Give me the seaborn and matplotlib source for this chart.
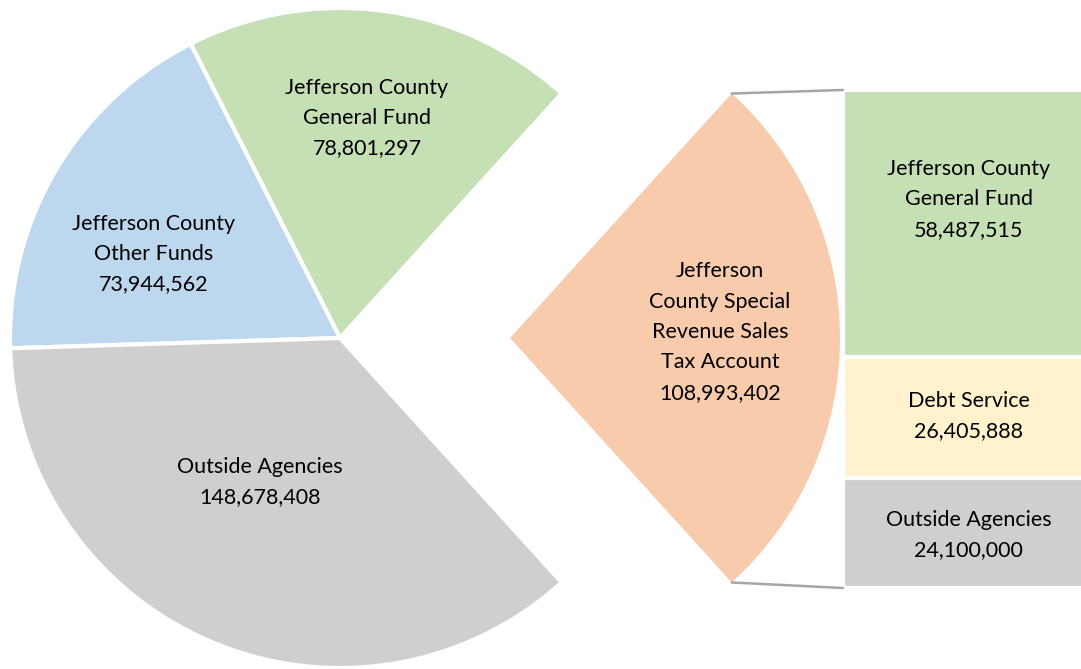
import numpy as np
import matplotlib
matplotlib.use("Agg")
import matplotlib.pyplot as plt
import seaborn as sns
from matplotlib.patches import ConnectionPatch

# ---- data ----
pie_labels = ["Jefferson\nCounty Special\nRevenue Sales\nTax Account",
              "Jefferson County\nGeneral Fund",
              "Jefferson County\nOther Funds",
              "Outside Agencies"]
pie_values = [108993402, 78801297, 73944562, 148678408]
pie_colors = ["#F8CBAD", "#C5E0B4", "#BDD7EE", "#D0CECE"]

bar_labels = ["Jefferson County\nGeneral Fund", "Debt Service", "Outside Agencies"]
bar_values = [58487515, 26405888, 24100000]
bar_colors = ["#C5E0B4", "#FFF2CC", "#D0CECE"]

sns.set_theme(style="white")
plt.rcParams['font.family'] = ['Lato', 'DejaVu Sans']
FS = 15.5
LS = 1.65

W, H = 1081, 669
fig = plt.figure(figsize=(W / 100, H / 100), dpi=100)

# pie axes in pixel-like data coordinates
ax = fig.add_axes([0, 0, 1, 1])
cx, cy, R = 340, H - 338, 330
total = sum(pie_values)
frac0 = pie_values[0] / total
start = -frac0 * 180.0
wedges, _ = ax.pie(pie_values, colors=pie_colors, startangle=start,
                   counterclock=True, radius=R, center=(cx, cy),
                   explode=[170, 0, 0, 0], frame=True,
                   wedgeprops=dict(edgecolor="white", linewidth=3))
wedges[0].set_linewidth(0)
ax.set_xlim(0, W)
ax.set_ylim(0, H)
ax.set_aspect("equal")
ax.axis("off")

# pie label positions (pixel coords from top)
pie_text_pos = [(720, 332), (367, 118), (154, 254), (260, 482)]
for (px, py), lab, v in zip(pie_text_pos, pie_labels, pie_values):
    ax.text(px, H - py, lab + "\n" + f"{v:,}", ha="center", va="center",
            fontsize=FS, color="#000000", linespacing=LS)

# bar axes
bx0, bx1 = 843, 1085
by_top, by_bot = 90, 588
bax = fig.add_axes([bx0 / W, (H - by_bot) / H, (bx1 - bx0) / W, (by_bot - by_top) / H])
btotal = sum(bar_values)
bottoms = np.cumsum([0] + bar_values[::-1])[:-1][::-1]
label_shift = [0.049, 0.003, -0.004]
for lab, v, b, c, sh in zip(bar_labels, bar_values, bottoms, bar_colors, label_shift):
    sns.barplot(x=[0], y=[v], bottom=b, color=c, width=1.0, ax=bax,
                edgecolor="white", linewidth=3, saturation=1)
    bax.text(0.02, b + v / 2 + btotal * sh,
             lab + "\n" + f"{v:,}", ha="center", va="center",
             fontsize=FS, color="#000000", linespacing=LS)
bax.set_xlim(-0.5, 0.5)
bax.set_ylim(0, btotal)
bax.axis("off")

# connector lines from exploded wedge arc ends to bar corners
w0 = wedges[0]
ang1, ang2 = np.deg2rad(w0.theta1), np.deg2rad(w0.theta2)
ccx, ccy = w0.center
r0 = w0.r
top_pt = (ccx + r0 * np.cos(ang2), ccy + r0 * np.sin(ang2))
bot_pt = (ccx + r0 * np.cos(ang1), ccy + r0 * np.sin(ang1))
for pt, yb in [(top_pt, btotal), (bot_pt, 0)]:
    con = ConnectionPatch(xyA=pt, coordsA=ax.transData,
                          xyB=(-0.5, yb), coordsB=bax.transData,
                          color="#A6A6A6", linewidth=1.8)
    fig.add_artist(con)

fig.savefig("out.png", dpi=100)
